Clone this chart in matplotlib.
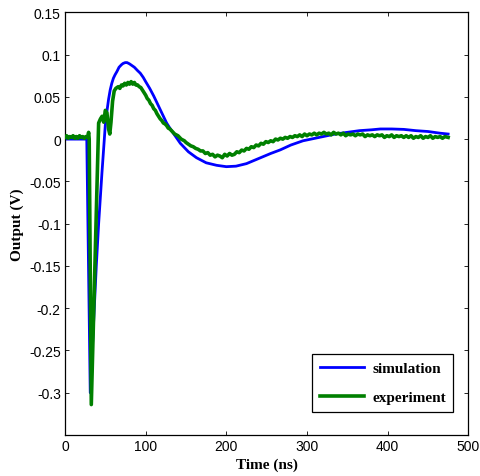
import matplotlib
matplotlib.use("Agg")
import matplotlib.pyplot as plt
from matplotlib.ticker import FuncFormatter

sim_t = [0, 10, 20, 27.0, 31.3, 38.8, 41.7, 45.8, 50, 52, 54, 56, 58, 60, 62, 64.4, 67, 70,
         72, 74.6, 77, 80, 83, 86, 90, 93.3, 97, 100, 105, 110, 114, 118, 122, 126, 130,
         135, 143, 153, 163, 175, 188, 200, 212, 225, 240, 255, 267, 280, 295, 310, 320,
         335, 350, 365, 380, 391, 405, 420, 435, 450, 465, 475]
sim_v = [0, 0, 0, 0, -0.30, -0.15, -0.10, -0.04, 0.017, 0.033, 0.047, 0.058, 0.066, 0.072,
         0.076, 0.080, 0.085, 0.088, 0.0895, 0.0905, 0.0905, 0.089, 0.087, 0.085, 0.081,
         0.078, 0.073, 0.068, 0.060, 0.051, 0.043, 0.035, 0.027, 0.019, 0.013, 0.006,
         -0.005, -0.015, -0.022, -0.028, -0.031, -0.0326, -0.032, -0.029, -0.023, -0.017,
         -0.0127, -0.007, -0.002, 0.001, 0.003, 0.006, 0.008, 0.010, 0.011, 0.012, 0.012,
         0.0115, 0.010, 0.009, 0.007, 0.006]

exp_t = [0, 2, 4, 6, 8, 10, 12, 14, 16, 18, 20, 22, 24, 26, 28, 29.3, 30.0, 32.6,
         41.7, 44, 46, 48, 50, 52, 54, 55.5, 57, 59, 61, 63,
         66, 68, 70, 72, 74, 76, 78, 80, 82, 84, 86, 88,
         90, 92, 94, 96, 98, 100, 102, 104, 106, 108, 110, 112,
         114, 116, 118, 120, 122, 124, 126, 128, 130, 132, 134, 136,
         138, 140, 142, 144, 146, 148, 150, 153, 156, 159, 162,
         165, 168, 171, 174, 177, 180, 183, 186, 189, 192,
         195, 198, 201, 204, 207, 210, 213, 216, 219, 222,
         225, 228, 231, 234, 237, 240, 243, 246, 249, 252,
         255, 258, 261, 264, 267, 270, 273, 276, 279, 282, 285,
         288, 291, 294, 297, 300, 303, 306, 309, 312, 315, 318, 321,
         324, 327, 330, 333, 336, 339, 342, 345, 348, 351, 354, 357,
         360, 363, 366, 369, 372, 375, 378, 381, 384, 387, 390, 393,
         396, 399, 402, 405, 408, 411, 414, 417, 420, 423, 426, 429,
         432, 435, 438, 441, 444, 447, 450, 453, 456, 459, 462, 465,
         468, 471, 475]
exp_v = [0.002, 0.004, 0.001, 0.003, 0.002, 0.004, 0.001, 0.003, 0.001, 0.004, 0.002, 0.003,
         0.001, 0.003, 0.002, 0.008, 0.0, -0.314,
         0.019, 0.024, 0.027, 0.020, 0.034, 0.031, 0.012, 0.006, 0.020, 0.045, 0.057, 0.060,
         0.062, 0.060, 0.064, 0.063, 0.066, 0.064, 0.067, 0.065, 0.068, 0.065, 0.067, 0.064,
         0.064, 0.062, 0.061, 0.058, 0.055, 0.052, 0.048, 0.046, 0.042, 0.040, 0.036, 0.034,
         0.030, 0.027, 0.024, 0.022, 0.019, 0.018, 0.016, 0.013, 0.012, 0.010, 0.008, 0.006,
         0.005, 0.004, 0.002, 0.000, -0.001, -0.002, -0.004, -0.006, -0.008, -0.009, -0.011,
         -0.012, -0.014, -0.014, -0.017, -0.016, -0.019, -0.018, -0.021, -0.019, -0.020,
         -0.022, -0.018, -0.020, -0.017, -0.019, -0.018, -0.015, -0.016, -0.013, -0.014,
         -0.011, -0.012, -0.009, -0.010, -0.007, -0.008, -0.005, -0.006, -0.003, -0.004,
         -0.002, -0.003, 0.000, -0.001, 0.001, 0.000, 0.002, 0.001, 0.003, 0.002, 0.004,
         0.003, 0.005, 0.003, 0.006, 0.004, 0.006, 0.005, 0.007, 0.005, 0.007, 0.006, 0.008,
         0.006, 0.007, 0.005, 0.008, 0.006, 0.007, 0.005, 0.007, 0.004, 0.006, 0.005, 0.006,
         0.004, 0.006, 0.005, 0.006, 0.003, 0.005, 0.004, 0.005, 0.003, 0.005, 0.004, 0.005,
         0.002, 0.004, 0.003, 0.005, 0.002, 0.004, 0.003, 0.004, 0.002, 0.004, 0.002, 0.004,
         0.001, 0.003, 0.002, 0.004, 0.001, 0.003, 0.002, 0.004, 0.001, 0.003, 0.002, 0.003,
         0.001, 0.003, 0.002]

x_ticks = [0, 100, 200, 300, 400, 500]
y_ticks = [-0.3, -0.25, -0.2, -0.15, -0.1, -0.05, 0, 0.05, 0.1, 0.15]

fig = plt.figure(figsize=(4.81, 4.77), dpi=100)
ax = fig.add_axes([65 / 481, 1 - 436 / 477, (468.3 - 65) / 481, (436 - 13.3) / 477])

ax.plot(sim_t, sim_v, color=(0, 0, 1), lw=2.0, label="simulation", zorder=2)
ax.plot(exp_t, exp_v, color=(0, 0.5, 0), lw=2.6, label="experiment", zorder=3)

ax.set_xlim(0, 500)
ax.set_ylim(-0.35, 0.15)
ax.set_xticks(x_ticks)
ax.set_yticks(y_ticks)
ax.yaxis.set_major_formatter(FuncFormatter(lambda v, p: "%g" % round(v, 3)))
ax.xaxis.set_major_formatter(FuncFormatter(lambda v, p: "%g" % v))
ax.tick_params(direction="in", length=2.7, width=0.6, top=True, right=True,
               labelsize=10, pad=3)
for lab in ax.get_xticklabels() + ax.get_yticklabels():
    lab.set_family("Liberation Sans")
for s in ax.spines.values():
    s.set_linewidth(0.9)

serif_bold = dict(family="Liberation Serif", weight="bold", size=11)
ax.set_xlabel("Time (ns)", fontdict=serif_bold, labelpad=3)
ax.set_ylabel("Output (V)", fontdict=serif_bold, labelpad=4)

leg = ax.legend(loc="lower right", prop=dict(family="Liberation Serif", weight="bold", size=11),
                frameon=True, fancybox=False, edgecolor="black", framealpha=1,
                handlelength=2.9, handletextpad=0.5, borderpad=0.5, labelspacing=1.0,
                bbox_to_anchor=(0.982, 0.037))
leg.get_frame().set_linewidth(0.9)

fig.savefig("out.png", dpi=100)
